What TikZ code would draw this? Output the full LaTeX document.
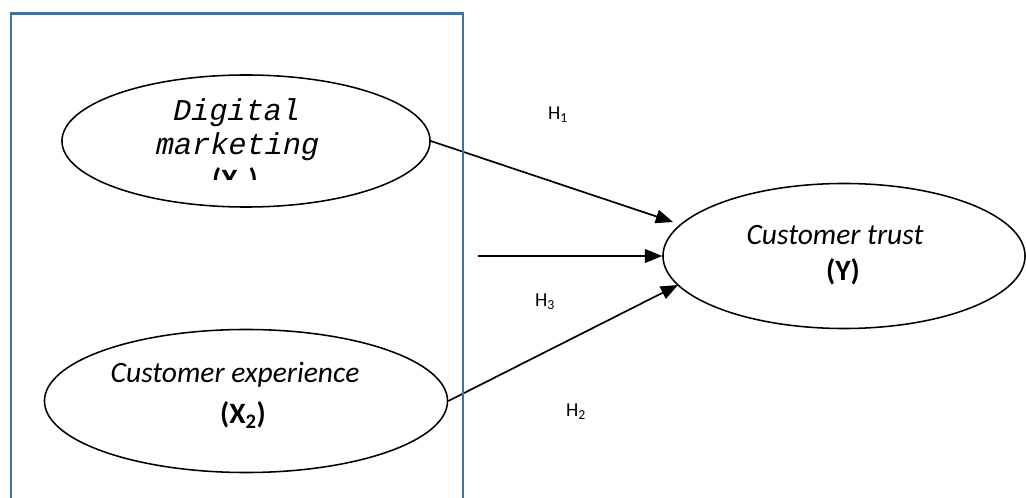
\documentclass[tikz,border=0pt]{standalone}
\usepackage{fontspec}
\setmainfont{Carlito}
\newfontfamily\courier{Liberation Mono}[FakeSlant=0.21]
\usetikzlibrary{shapes.geometric}
\usetikzlibrary{arrows.meta}
\definecolor{cadre}{RGB}{65,113,156}

\begin{document}
\begin{tikzpicture}[x=0.025cm,y=-0.025cm,
  var/.style={draw,ellipse,line width=1.1pt,fill=white,inner sep=0pt},
  fleche/.style={line width=1.2pt,-{Triangle[length=4.3mm,width=3.4mm]}},
  texte/.style={font=\fontsize{21}{25}\selectfont},
  mono/.style={font=\fontsize{21.5}{25}\courier},
  hyp/.style={font=\fontsize{14}{16}\selectfont}]
\useasboundingbox (0,0) rectangle (1026,498);

% Les variables
\node[var,minimum width=9.2cm,minimum height=3.3cm] (dm) at (246,141) {};
\node[var,minimum width=10.075cm,minimum height=3.575cm] (ce) at (246,401) {};
\node[var,minimum width=9.05cm,minimum height=3.625cm] (ct) at (844,256) {};

% Textes des variables
\node[mono] (dmA) at (235,113) {Digital};
\node[mono] (dmB) at (236,147) {marketing};
\begin{scope}
\clip (100,160) rectangle (400,180);
\node[texte] (dmC) at (235,181) {\textbf{(X\textsubscript{1})}};
\end{scope}
\node[texte] (ceA) at (235,375) {\textit{Customer experience}};
\node[texte] (ceB) at (243,415) {\textbf{(X\textsubscript{2})}};
\node[texte] (ctA) at (835,235) {\textit{Customer trust}};
\node[texte] (ctB) at (843,272) {\textbf{(Y)}};

% Les hypotheses
\coordinate (pm) at (478,256);
\coordinate (t1) at (673,222);
\coordinate (t2) at (678,285);
\draw[fleche] (dm.east) -- (t1);
\draw[fleche] (pm) -- (ct.west);
\draw[fleche] (ce.east) -- (t2);
\node[hyp] (h1) at (558,115) {H\textsubscript{1}};
\node[hyp] (h3) at (545,302) {H\textsubscript{3}};
\node[hyp] (h2) at (576,412) {H\textsubscript{2}};

% Le cadre
\draw[cadre,line width=1.8pt] (11,500) -- (11,13.5) -- (463,13.5) -- (463,500);
\end{tikzpicture}
\end{document}
